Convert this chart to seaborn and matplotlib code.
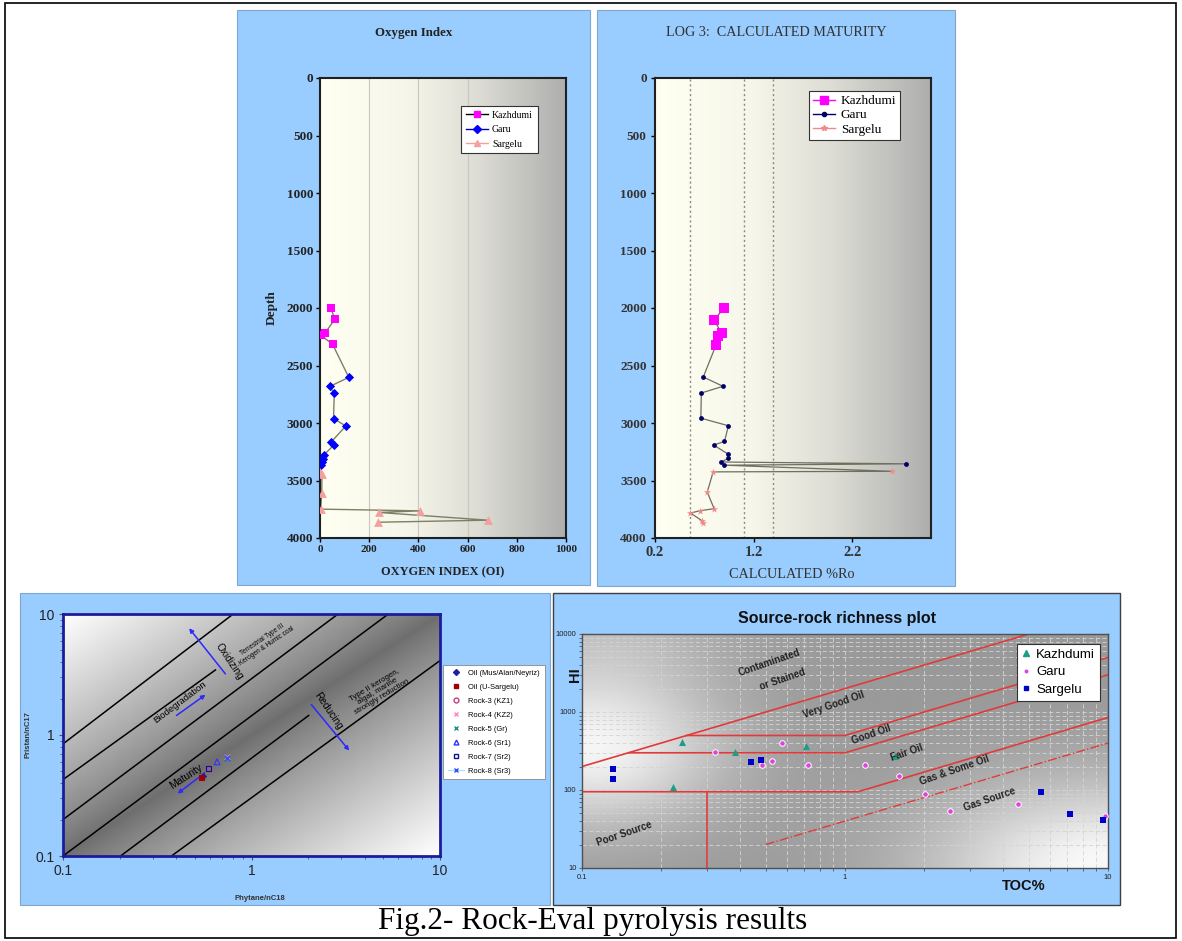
import numpy as np
import pandas as pd
import matplotlib
matplotlib.use("Agg")
import matplotlib.pyplot as plt
import seaborn as sns
from matplotlib.lines import Line2D
from matplotlib.patches import Rectangle
from matplotlib.colors import LinearSegmentedColormap
from matplotlib.ticker import FixedLocator, FixedFormatter, LogLocator, NullFormatter

# ------------------------------------------------------------------ data
# Panel 1 : Oxygen index vs depth
kz_oi_depth = [2000, 2096, 2219, 2239, 2315]
kz_oi = [43, 61, 20, 4, 51]
garu_oi_depth = [2603, 2682, 2743, 2962, 3026, 3166, 3189, 3277, 3312, 3341, 3364]
garu_oi = [117, 40, 58, 55, 105, 45, 58, 16, 13, 10, 3]
sarg_oi_depth = [3428, 3440, 3609, 3749, 3764, 3778, 3845, 3863]
sarg_oi = [2, 8, 7, 3, 405, 240, 682, 234]

# Panel 2 : calculated maturity (%Ro) vs depth
kz_ro_depth = [2000, 2104, 2219, 2245, 2320]
kz_ro = [0.90, 0.80, 0.875, 0.835, 0.82]
garu_ro_depth = [2600, 2681, 2739, 2958, 3024, 3160, 3192, 3272, 3307, 3339, 3355, 3367]
garu_ro = [0.69, 0.89, 0.67, 0.665, 0.945, 0.905, 0.795, 0.945, 0.945, 0.87, 2.75, 0.905]
sarg_ro_depth = [3420, 3425, 3601, 3745, 3763, 3783, 3849, 3867]
sarg_ro = [2.60, 0.79, 0.73, 0.80, 0.655, 0.56, 0.675, 0.69]
ro_marks = [0.55, 1.1, 1.4]

# Panel 3 : Pristane/nC17 vs Phytane/nC18
pp_labels = ["Oil (Mus/Alan/Neyriz)", "Oil (U-Sargelu)", "Rock-3 (KZ1)", "Rock-4 (KZ2)",
             "Rock-5 (Gr)", "Rock-6 (Sr1)", "Rock-7 (Sr2)", "Rock-8 (Sr3)"]
pp_phy = [0.550, 0.545, 0.590, 0.745, 0.740, 0.657, 0.593, 0.742]
pp_pri = [0.460, 0.445, 0.530, 0.660, 0.645, 0.600, 0.530, 0.650]
# boundary lines (endpoints)
pp_lines_x = [[0.1, 0.80], [0.1, 0.644], [0.1, 2.88], [0.1, 5.32], [0.202, 2.01], [0.376, 10]]
pp_lines_y = [[0.844, 10], [0.428, 3.45], [0.2, 10], [0.1, 10], [0.1, 1.45], [0.1, 4.12]]

# Panel 4 : HI vs TOC
kz_toc = [0.241, 0.222, 0.383, 0.713, 1.55]
kz_hi = [410, 110, 308, 367, 269]
garu_toc = [0.321, 0.574, 0.482, 0.530, 0.724, 1.19, 1.60, 2.02, 2.50, 4.54, 9.78]
garu_hi = [308, 397, 209, 232, 211, 209, 150, 88.6, 54.5, 66, 46]
sarg_toc = [0.131, 0.131, 0.44, 0.48, 5.57, 7.18, 9.53]
sarg_hi = [188, 139, 230, 244, 95.5, 49.4, 41]
contam_x, contam_y = [0.1, 5.0], [200, 10000]
vgood_x, vgood_y = [0.25, 1.0, 10], [500, 500, 5000]
good_x, good_y = [0.15, 1.0, 10], [300, 300, 3000]
fair_x, fair_y = [0.1, 1.12, 10], [95, 95, 850]
poor_x, poor_y = [0.3, 0.3], [10, 95]
gas_x, gas_y = [0.5, 10], [20, 400]

# ------------------------------------------------------------------ figure
W, H = 1182, 941
fig = plt.figure(figsize=(W / 100, H / 100), dpi=100)
fig.patch.set_facecolor("white")
SERIF = "Liberation Serif"
SANS = "Liberation Sans"


def fx(px):
    return px / W


def fy(py):
    return 1 - py / H


def box(x0, y0, x1, y1, fc, ec, lw=1.0, z=-2):
    fig.add_artist(Rectangle((fx(x0), fy(y1)), fx(x1) - fx(x0), fy(y0) - fy(y1),
                             transform=fig.transFigure, facecolor=fc, edgecolor=ec,
                             lw=lw, zorder=z))


def add_ax(x0, y0, x1, y1):
    ax = fig.add_axes([fx(x0), fy(y1), fx(x1) - fx(x0), fy(y0) - fy(y1)])
    ax.set_facecolor("none")
    return ax


def style_ticks(ax, axis, size, family, weight="normal", color="black"):
    labels = ax.get_xticklabels() if axis == "x" else ax.get_yticklabels()
    for lab in labels:
        lab.set_fontfamily(family)
        lab.set_fontsize(size)
        lab.set_fontweight(weight)
        lab.set_color(color)


# outer frame and panel backgrounds
fig.add_artist(Rectangle((fx(5), fy(938)), fx(1176) - fx(5), fy(3) - fy(938),
                         transform=fig.transFigure, fill=False, edgecolor="black", lw=1.2, zorder=-3))
box(237, 10, 590, 585, "#99CCFF", "#7fa6cc", 0.8)
box(597, 10, 955, 586, "#99CCFF", "#7fa6cc", 0.8)
box(20, 593, 550, 905, "#99CCFF", "#7fa6cc", 0.8)
box(553, 593, 1120, 905, "#99CCFF", "#404040", 1.0)

grad_cm = LinearSegmentedColormap.from_list(
    "ivory_gray", [(0, "#FFFFF2"), (0.35, "#F6F6EA"), (0.65, "#DCDCD4"), (1, "#AEAEAE")])
hgrad = np.linspace(0, 1, 256).reshape(1, -1)

# ------------------------------------------------------------------ panel 1
ax1 = add_ax(320, 78, 566, 538)
ax1.imshow(hgrad, cmap=grad_cm, extent=[0, 1, 0, 1], transform=ax1.transAxes,
           aspect="auto", zorder=0)
oi_all = pd.DataFrame({"oi": kz_oi + garu_oi + sarg_oi,
                       "depth": kz_oi_depth + garu_oi_depth + sarg_oi_depth})
sns.lineplot(data=oi_all, x="oi", y="depth", sort=False, estimator=None,
             color="#7f7f66", lw=1.0, ax=ax1, zorder=2)
sns.scatterplot(x=kz_oi, y=kz_oi_depth, marker="s", color="#FF00FF", s=32, linewidth=0, ax=ax1, zorder=3)
sns.scatterplot(x=garu_oi, y=garu_oi_depth, marker="D", color="#0000FF", s=22, linewidth=0, ax=ax1, zorder=3)
sns.scatterplot(x=sarg_oi, y=sarg_oi_depth, marker="^", color="#F4A0A0", s=40, linewidth=0, ax=ax1, zorder=3)
ax1.set_xlim(0, 1000)
ax1.set_ylim(4000, 0)
ax1.set_xticks(range(0, 1001, 200))
ax1.set_yticks(range(0, 4001, 500))
ax1.set_axisbelow(True)
ax1.xaxis.grid(True, color="#c8c8c0", lw=0.8)
ax1.set_xlabel("")
ax1.set_ylabel("")
for s in ax1.spines.values():
    s.set_color("#202020")
    s.set_linewidth(1.5)
ax1.tick_params(direction="out", length=3, width=1, pad=2)
style_ticks(ax1, "x", 8, SERIF, "bold", "#222222")
style_ticks(ax1, "y", 9.5, SERIF, "bold", "#222222")
fig.text(fx(414), fy(33), "Oxygen Index", ha="center", va="center", family=SERIF,
         weight="bold", fontsize=9.3, color="#222222")
fig.text(fx(443), fy(572), "OXYGEN INDEX (OI)", ha="center", va="center", family=SERIF,
         weight="bold", fontsize=8.9, color="#222222")
fig.text(fx(272), fy(308), "Depth", ha="center", va="center", rotation=90, family=SERIF,
         weight="bold", fontsize=9.5, color="#222222")
h1 = [Line2D([], [], color="black", lw=1, marker="s", ms=5, mfc="#FF00FF", mec="#FF00FF"),
      Line2D([], [], color="#0000AA", lw=1, marker="D", ms=4, mfc="#0000FF", mec="#0000FF"),
      Line2D([], [], color="#F4A0A0", lw=1, marker="^", ms=5, mfc="#F4A0A0", mec="#F4A0A0")]
leg1 = fig.legend(h1, ["Kazhdumi", "Garu", "Sargelu"], loc="upper left",
                  bbox_to_anchor=(fx(461), fy(106)), bbox_transform=fig.transFigure,
                  prop={"family": SERIF, "size": 7}, frameon=True, fancybox=False,
                  edgecolor="#333333", framealpha=1, handlelength=2.3, borderpad=0.5,
                  labelspacing=0.55, handletextpad=0.4, borderaxespad=0)
leg1.get_frame().set_linewidth(0.8)

# ------------------------------------------------------------------ panel 2
ax2 = add_ax(655, 78, 931, 538)
ax2.imshow(hgrad, cmap=grad_cm, extent=[0, 1, 0, 1], transform=ax2.transAxes,
           aspect="auto", zorder=0)
for v in ro_marks:
    ax2.axvline(v, color="#8a8a80", lw=1.0, ls=(0, (1.5, 2)), zorder=1)
ro_all = pd.DataFrame({"ro": kz_ro + garu_ro + sarg_ro,
                       "depth": kz_ro_depth + garu_ro_depth + sarg_ro_depth})
sns.lineplot(data=ro_all, x="ro", y="depth", sort=False, estimator=None,
             color="#6f6f60", lw=0.9, ax=ax2, zorder=2)
sns.scatterplot(x=kz_ro, y=kz_ro_depth, marker="s", color="#FF00FF", s=45, linewidth=0, ax=ax2, zorder=3)
sns.scatterplot(x=garu_ro, y=garu_ro_depth, marker="o", color="#000066", s=12, linewidth=0, ax=ax2, zorder=3)
sns.scatterplot(x=sarg_ro, y=sarg_ro_depth, marker="*", color="#F08A8A", s=30, linewidth=0, ax=ax2, zorder=3)
ax2.set_xlim(0.2, 3.0)
ax2.set_ylim(4000, 0)
ax2.set_xticks([0.2, 1.2, 2.2])
ax2.set_xticklabels(["0.2", "1.2", "2.2"])
ax2.set_yticks(range(0, 4001, 500))
ax2.set_xlabel("")
ax2.set_ylabel("")
for s in ax2.spines.values():
    s.set_color("#202020")
    s.set_linewidth(1.5)
ax2.tick_params(direction="out", length=3, width=1, pad=3)
style_ticks(ax2, "x", 10.5, SERIF, "bold", "#333333")
style_ticks(ax2, "y", 9.5, SERIF, "bold", "#333333")
fig.text(fx(776), fy(33), "LOG 3:  CALCULATED MATURITY", ha="center", va="center",
         family=SERIF, fontsize=10.2, color="#333333")
fig.text(fx(792), fy(575), "CALCULATED %Ro", ha="center", va="center", family=SERIF,
         fontsize=10.3, color="#333333")
h2 = [Line2D([], [], color="#FF00FF", lw=1, marker="s", ms=6, mfc="#FF00FF", mec="#FF00FF"),
      Line2D([], [], color="#000066", lw=1, marker="o", ms=3, mfc="#000066", mec="#000066"),
      Line2D([], [], color="#F08A8A", lw=1, marker="*", ms=4, mfc="#F08A8A", mec="#F08A8A")]
leg2 = fig.legend(h2, ["Kazhdumi", "Garu", "Sargelu"], loc="upper left",
                  bbox_to_anchor=(fx(809), fy(91)), bbox_transform=fig.transFigure,
                  prop={"family": SERIF, "size": 9.5}, frameon=True, fancybox=False,
                  edgecolor="#333333", framealpha=1, handlelength=1.7, borderpad=0.3,
                  labelspacing=0.15, handletextpad=0.4, borderaxespad=0)
leg2.get_frame().set_linewidth(0.8)

# ------------------------------------------------------------------ panel 3
ax3 = add_ax(63, 614, 440, 856)
ax3.set_xscale("log")
ax3.set_yscale("log")
gx, gy = np.meshgrid(np.linspace(0, 1, 400), np.linspace(0, 1, 260))
gval = 0.43 + 0.57 * np.abs(gx - gy) ** 0.85
ax3.imshow(gval, cmap="gray", vmin=0, vmax=1, origin="lower", extent=[0, 1, 0, 1],
           transform=ax3.transAxes, aspect="auto", zorder=0, interpolation="bilinear")
for lx, ly in zip(pp_lines_x, pp_lines_y):
    sns.lineplot(x=lx, y=ly, color="black", lw=1.1, ax=ax3, zorder=2, sort=False, estimator=None)

pp_styles = [
    dict(marker="D", color="#2020A0", s=14, linewidth=0),
    dict(marker="s", color="#A00000", s=18, linewidth=0),
    dict(marker="o", facecolor="none", edgecolor="#C04080", s=14, linewidth=0.8),
    dict(marker="x", color="#FF88CC", s=16, linewidth=1.0),
    dict(marker="x", color="#209080", s=16, linewidth=1.0),
    dict(marker="^", facecolor="none", edgecolor="#3030FF", s=18, linewidth=0.8),
    dict(marker="s", facecolor="none", edgecolor="#101090", s=16, linewidth=0.8),
    dict(marker="x", color="#3050FF", s=16, linewidth=1.0),
]
for xv, yv, st in zip(pp_phy, pp_pri, pp_styles):
    sns.scatterplot(x=[xv], y=[yv], ax=ax3, zorder=4, legend=False, **st)

arrow_kw = dict(arrowstyle="-|>", color="#2a2aff", lw=1.1, mutation_scale=6, shrinkA=0, shrinkB=0)
ax3.annotate("", xy=(0.467, 7.62), xytext=(0.727, 3.2), arrowprops=arrow_kw, zorder=3)
ax3.annotate("", xy=(0.57, 2.15), xytext=(0.40, 1.45), arrowprops=arrow_kw, zorder=3)
ax3.annotate("", xy=(0.405, 0.328), xytext=(0.565, 0.486), arrowprops=arrow_kw, zorder=3)
ax3.annotate("", xy=(3.30, 0.743), xytext=(2.08, 1.78), arrowprops=arrow_kw, zorder=3)

tkw = dict(ha="center", va="center", family=SANS, color="black", zorder=5)
ax3.text(0.766, 4.06, "Oxidizing", rotation=-56, fontsize=7.3, **tkw)
ax3.text(1.17, 5.75, "Terrestrial Type III\nKerogen & Humic coal", rotation=34, fontsize=4.7,
         linespacing=1.1, **tkw)
ax3.text(0.416, 1.87, "Biodegradation", rotation=37, fontsize=6.8, **tkw)
ax3.text(2.55, 1.57, "Reducing", rotation=-56, fontsize=7.3, **tkw)
ax3.text(4.69, 2.30, "Type II kerogen,\nalgal, marine\nstrongly reduction", rotation=31,
         fontsize=5.7, linespacing=0.95, **tkw)
ax3.text(0.448, 0.456, "Maturity", rotation=33, fontsize=7.5, **tkw)

ax3.set_xlim(0.1, 10)
ax3.set_ylim(0.1, 10)
ax3.xaxis.set_major_locator(FixedLocator([0.1, 1, 10]))
ax3.xaxis.set_major_formatter(FixedFormatter(["0.1", "1", "10"]))
ax3.yaxis.set_major_locator(FixedLocator([0.1, 1, 10]))
ax3.yaxis.set_major_formatter(FixedFormatter(["0.1", "1", "10"]))
ax3.xaxis.set_minor_locator(LogLocator(base=10, subs=np.arange(2, 10)))
ax3.yaxis.set_minor_locator(LogLocator(base=10, subs=np.arange(2, 10)))
ax3.xaxis.set_minor_formatter(NullFormatter())
ax3.yaxis.set_minor_formatter(NullFormatter())
ax3.set_xlabel("")
ax3.set_ylabel("")
for s in ax3.spines.values():
    s.set_color("#1c1c9a")
    s.set_linewidth(2.0)
ax3.tick_params(which="major", direction="out", length=3, width=0.8, color="#555555", pad=3)
ax3.tick_params(which="minor", direction="out", length=2, width=0.6, color="#555555")
style_ticks(ax3, "x", 10, SANS, "normal", "#222222")
style_ticks(ax3, "y", 10, SANS, "normal", "#222222")
fig.text(fx(28), fy(735), "Pristan/nC17", rotation=90, ha="center", va="center",
         family=SANS, weight="bold", fontsize=5.5, color="#333333")
fig.text(fx(260), fy(898), "Phytane/nC18", ha="center", va="center",
         family=SANS, weight="bold", fontsize=5.5, color="#333333")

h3 = [Line2D([], [], ls="none", marker="D", ms=3, color="#2020A0"),
      Line2D([], [], ls="none", marker="s", ms=3.5, color="#A00000"),
      Line2D([], [], ls="none", marker="o", ms=3.5, mfc="none", mec="#C04080"),
      Line2D([], [], ls="none", marker="x", ms=3.5, color="#FF88CC"),
      Line2D([], [], ls="none", marker="x", ms=3.5, color="#209080"),
      Line2D([], [], ls="none", marker="^", ms=3.5, mfc="none", mec="#3030FF"),
      Line2D([], [], ls="none", marker="s", ms=3.5, mfc="none", mec="#101090"),
      Line2D([], [], ls="-", lw=0.6, marker="x", ms=3.5, color="#88DDFF", mec="#3050FF")]
leg3 = fig.legend(h3, pp_labels, loc="upper left", bbox_to_anchor=(fx(443), fy(665)),
                  bbox_transform=fig.transFigure, prop={"family": SANS, "size": 5.4},
                  frameon=True, fancybox=False, edgecolor="#888888", framealpha=1,
                  handlelength=2.2, borderpad=0.6, labelspacing=0.9, handletextpad=0.6,
                  borderaxespad=0)
leg3.get_frame().set_linewidth(0.6)

# ------------------------------------------------------------------ panel 4
ax4 = add_ax(582, 634, 1108, 868)
ax4.set_xscale("log")
ax4.set_yscale("log")
bx, by = np.meshgrid(np.linspace(0, 1, 400), np.linspace(0, 1, 260))
bval = (0.60
        + 0.36 * np.exp(-((bx - 0.02) ** 2 / 0.06 + (by - 0.52) ** 2 / 0.12))
        + 0.38 * np.exp(-((bx - 1.0) ** 2 / 0.12 + (by - 0.0) ** 2 / 0.14))
        + 0.10 * np.exp(-((bx - 0.05) ** 2 / 0.05 + (by - 1.0) ** 2 / 0.05)))
bval = np.clip(bval, 0, 0.97)
ax4.imshow(bval, cmap="gray", vmin=0, vmax=1, origin="lower", extent=[0, 1, 0, 1],
           transform=ax4.transAxes, aspect="auto", zorder=0, interpolation="bilinear")
ax4.set_axisbelow(True)
ax4.grid(True, which="both", ls=(0, (5, 3)), color="#d4d4d4", lw=0.6)

red = "#E23A3A"
for lx, ly in [(contam_x, contam_y), (vgood_x, vgood_y), (good_x, good_y),
               (fair_x, fair_y), (poor_x, poor_y)]:
    sns.lineplot(x=lx, y=ly, color=red, lw=1.2, ax=ax4, zorder=2, sort=False, estimator=None)
sns.lineplot(x=gas_x, y=gas_y, color=red, lw=1.0, ax=ax4, zorder=2, sort=False,
             estimator=None, linestyle="-.")

sns.scatterplot(x=kz_toc, y=kz_hi, marker="^", color="#1a9e86", s=26, linewidth=0, ax=ax4, zorder=4)
sns.scatterplot(x=garu_toc, y=garu_hi, marker="o", color="#DD44DD", s=16, edgecolor="white",
                linewidth=0.7, ax=ax4, zorder=4)
sns.scatterplot(x=sarg_toc, y=sarg_hi, marker="s", color="#0000CC", s=16, linewidth=0, ax=ax4, zorder=4)

lkw = dict(ha="center", va="center", family=SANS, weight="bold", color="#222222",
           fontsize=7, rotation=19, zorder=5)
ax4.text(0.514, 4250, "Contaminated", **lkw)
ax4.text(0.581, 2650, "or Stained", **lkw)
ax4.text(0.908, 1230, "Very Good Oil", **lkw)
ax4.text(1.26, 522, "Good Oil", **lkw)
ax4.text(1.72, 298, "Fair Oil", **lkw)
ax4.text(2.60, 180, "Gas & Some Oil", **lkw)
ax4.text(3.56, 76.7, "Gas Source", **lkw)
ax4.text(0.1445, 27.3, "Poor Source", **lkw)

ax4.set_xlim(0.1, 10)
ax4.set_ylim(10, 10000)
ax4.xaxis.set_major_locator(FixedLocator([0.1, 1, 10]))
ax4.xaxis.set_major_formatter(FixedFormatter(["0.1", "1", "10"]))
ax4.yaxis.set_major_locator(FixedLocator([10, 100, 1000, 10000]))
ax4.yaxis.set_major_formatter(FixedFormatter(["10", "100", "1000", "10000"]))
ax4.xaxis.set_minor_locator(LogLocator(base=10, subs=np.arange(2, 10)))
ax4.yaxis.set_minor_locator(LogLocator(base=10, subs=np.arange(2, 10)))
ax4.xaxis.set_minor_formatter(NullFormatter())
ax4.yaxis.set_minor_formatter(NullFormatter())
ax4.set_xlabel("")
ax4.set_ylabel("")
for s in ax4.spines.values():
    s.set_color("#505050")
    s.set_linewidth(1.0)
ax4.tick_params(which="both", direction="out", length=2, width=0.6, color="#555555", pad=2)
style_ticks(ax4, "x", 5.5, SANS, "normal", "#222222")
style_ticks(ax4, "y", 5.5, SANS, "normal", "#222222")
fig.text(fx(837), fy(618), "Source-rock richness plot", ha="center", va="center",
         family=SANS, weight="bold", fontsize=11.5, color="#111111")
fig.text(fx(575), fy(675), "HI", rotation=90, ha="center", va="center",
         family=SANS, weight="bold", fontsize=10.5, color="#111111")
fig.text(fx(1024), fy(886), "TOC%", ha="center", va="center",
         family=SANS, weight="bold", fontsize=10.5, color="#111111")
h4 = [Line2D([], [], ls="none", marker="^", ms=4.5, color="#1a9e86"),
      Line2D([], [], ls="none", marker="o", ms=3.5, color="#DD44DD", mec="white", mew=0.6),
      Line2D([], [], ls="none", marker="s", ms=3.5, color="#0000CC")]
leg4 = fig.legend(h4, ["Kazhdumi", "Garu", "Sargelu"], loc="upper left",
                  bbox_to_anchor=(fx(1017), fy(644)), bbox_transform=fig.transFigure,
                  prop={"family": SANS, "size": 9.5}, frameon=True, fancybox=False,
                  edgecolor="#333333", framealpha=1, handlelength=0.6, borderpad=0.35,
                  labelspacing=0.4, handletextpad=0.5, borderaxespad=0)
leg4.get_frame().set_linewidth(0.8)

# ------------------------------------------------------------------ caption
fig.text(fx(593), fy(921), "Fig.2- Rock-Eval pyrolysis results", ha="center", va="center",
         family=SERIF, fontsize=22.5, color="black")

fig.savefig("out.png", dpi=100)
